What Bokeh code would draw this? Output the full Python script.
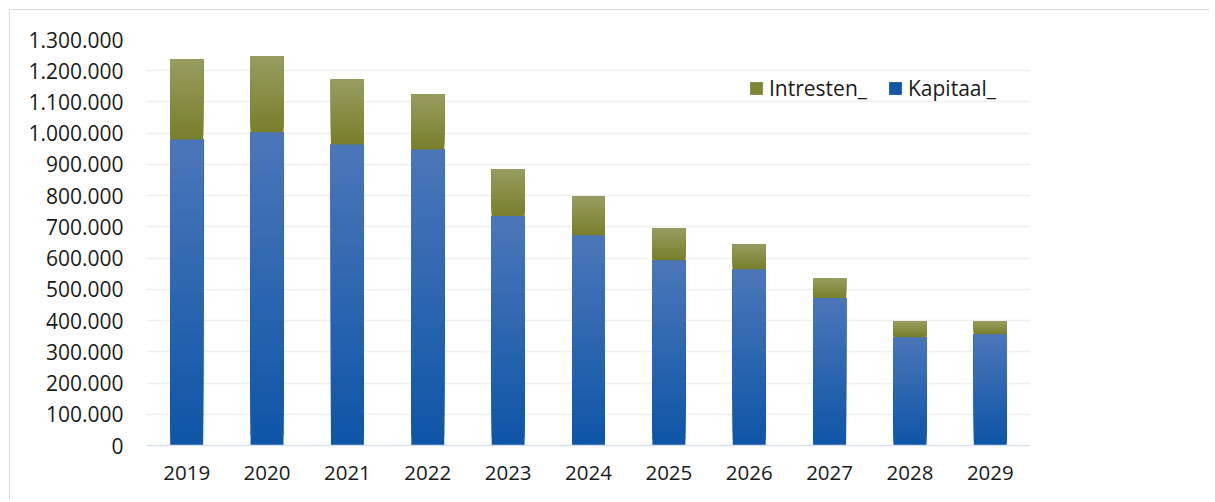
from bokeh.plotting import figure
from bokeh.models import (ColumnDataSource, FixedTicker, CustomJSTickFormatter,
                          Legend, LegendItem, Range1d)
from bokeh.embed import file_html
from bokeh.resources import INLINE

years = ["2019", "2020", "2021", "2022", "2023", "2024", "2025", "2026", "2027", "2028", "2029"]
kapitaal = [980000, 1003000, 964000, 948000, 735000, 673000, 593000, 564000, 472000, 347000, 356000]
intresten = [256000, 243000, 208000, 176000, 149000, 125000, 102000, 80000, 63000, 50000, 41000]
y_ticks = list(range(0, 1300001, 100000))

FONT = "Open Sans"
FS = "21px"

p = figure(x_range=years, width=1200, height=490, output_backend="svg",
           toolbar_location=None, min_border_left=136, min_border_right=180,
           min_border_top=29, min_border_bottom=55)
p.y_range = Range1d(0, 1300000)
p.outline_line_color = None
p.background_fill_color = "white"
p.border_fill_color = "white"
p.styles = {"border-top": "1px solid #d9d9d9", "border-left": "1px solid #d9d9d9",
            "margin-top": "9px", "margin-left": "9px"}

def hex2rgb(h):
    h = h.lstrip("#")
    return tuple(int(h[i:i + 2], 16) for i in (0, 2, 4))

def lerp(c1, c2, t):
    a, b = hex2rgb(c1), hex2rgb(c2)
    return "#%02x%02x%02x" % tuple(round(a[i] + (b[i] - a[i]) * t) for i in range(3))

N = 30
BW = 0.41

def gradient_bars(base, vals, c_bottom, c_top):
    # painter's order: each later slice starts higher and covers up to the top
    for k in range(N):
        col = lerp(c_bottom, c_top, (k + 0.5) / N)
        src = ColumnDataSource(dict(
            x=years,
            b=[bs + v * k / N for bs, v in zip(base, vals)],
            t=[bs + v for bs, v in zip(base, vals)],
        ))
        p.vbar(x="x", bottom="b", top="t", width=BW, source=src,
               fill_color=col, line_color=None)

gradient_bars([0] * len(years), kapitaal, "#0e55a6", "#4b77b9")
gradient_bars(kapitaal, intresten, "#787e2b", "#989d60")

# zero-height renderers used only for the legend swatches
leg_src = ColumnDataSource(dict(x=years, b=[0] * len(years), t=[0] * len(years)))
r_int = p.vbar(x="x", bottom="b", top="t", width=BW, source=leg_src,
               fill_color="#7f8535", line_color=None)
r_kap = p.vbar(x="x", bottom="b", top="t", width=BW, source=leg_src,
               fill_color="#1356a8", line_color=None)

legend = Legend(items=[LegendItem(label="Intresten_", renderers=[r_int]),
                       LegendItem(label="Kapitaal_", renderers=[r_kap])],
                orientation="horizontal", location=(602, 343),
                label_text_font=FONT, label_text_font_size=FS,
                label_text_color="#1a1a1a", glyph_width=16, glyph_height=16,
                label_standoff=5, spacing=20, padding=0, margin=0,
                border_line_color=None, background_fill_alpha=0)
p.add_layout(legend)

# grid
p.xgrid.grid_line_color = None
p.ygrid.ticker = FixedTicker(ticks=y_ticks)
p.ygrid.grid_line_color = "#efefef"
p.ygrid.grid_line_width = 1.5

# y axis
p.yaxis.ticker = FixedTicker(ticks=y_ticks)
p.yaxis.formatter = CustomJSTickFormatter(code="""
    return Math.round(tick).toString().replace(/\\B(?=(\\d{3})+(?!\\d))/g, '.');
""")
p.yaxis.axis_line_color = None
p.yaxis.major_tick_line_color = None
p.yaxis.minor_tick_line_color = None
p.yaxis.major_tick_out = 0
p.yaxis.major_label_standoff = 23
p.yaxis.major_label_text_font = FONT
p.yaxis.major_label_text_font_size = FS
p.yaxis.major_label_text_color = "#1a1a1a"

# x axis
p.xaxis.axis_line_color = "#d5dfef"
p.xaxis.axis_line_width = 1.5
p.xaxis.major_tick_line_color = None
p.xaxis.minor_tick_line_color = None
p.xaxis.major_tick_out = 0
p.xaxis.major_label_standoff = 20
p.xaxis.major_label_text_font = FONT
p.xaxis.major_label_text_font_size = "20.5px"
p.xaxis.major_label_text_color = "#1a1a1a"
p.x_range.range_padding = 0

open("out.html", "w").write(file_html(p, INLINE))
